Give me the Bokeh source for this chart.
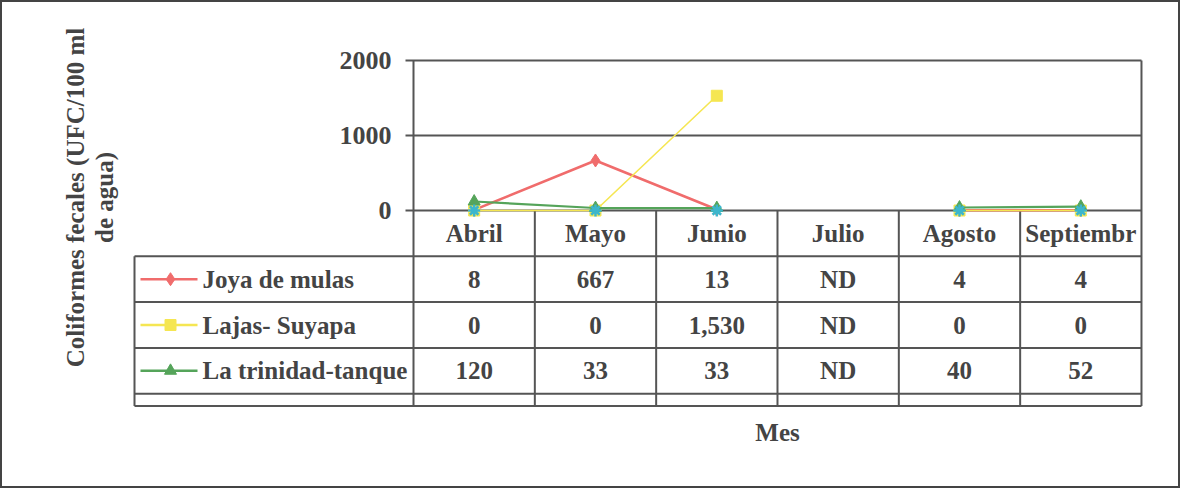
import math
from bokeh.plotting import figure
from bokeh.models import Range1d
from bokeh.core.properties import value
from bokeh.embed import file_html
from bokeh.resources import INLINE

# ---------------- data ----------------
months = ["Abril", "Mayo", "Junio", "Julio", "Agosto", "Septiembr"]
joya_de_mulas = [8, 667, 13, None, 4, 4]
lajas_suyapa = [0, 0, 1530, None, 0, 0]
la_trinidad_tanque = [120, 33, 33, None, 40, 52]
unnamed_series = [0, 0, 0, None, 0, 0]   # 4th (unlabelled) series, blank table row
series_names = ["Joya de mulas", "Lajas- Suyapa", "La trinidad-tanque"]
y_ticks = [0, 1000, 2000]
y_title = ["Coliformes fecales (UFC/100 ml", "de agua)"]
x_title = "Mes"
missing_label = "ND"

# ---------------- layout (pixels) ----------------
W, H = 1180, 488
PLOT_L = 413.0            # left edge of plot area
COL_W = 121.33            # width of one month column
ZERO = 210.0              # pixel row of value 0
PX = 150.0 / 2000.0       # pixels per unit
ROW_H = 45.8              # table row height
LEG_L = 134.0             # left edge of legend column
FONT = value("Liberation Serif")
FS = "25px"
TXT = "#444444"
LINE = "#555555"

colors = ["#F06C6C", "#F5E652", "#55A45A"]
markers = ["diamond", "square", "triangle"]
msizes = [13, 11, 12]
lwidths = [2.6, 1.6, 2.2]
extra_color = "#3DB6CC"

p = figure(width=W, height=H, output_backend="svg", toolbar_location=None,
           x_axis_location=None, y_axis_location=None,
           x_range=Range1d(-PLOT_L / COL_W, (W - PLOT_L) / COL_W),
           y_range=Range1d(-(H - ZERO) / PX, ZERO / PX),
           min_border=0, min_border_left=0, min_border_right=0,
           min_border_top=0, min_border_bottom=0)
p.extra_y_ranges = {"tbl": Range1d(start=(H - ZERO) / ROW_H, end=-ZERO / ROW_H)}
p.grid.visible = False
p.outline_line_color = "#444444"
p.outline_line_width = 3
p.background_fill_color = "white"
p.border_fill_color = "white"

n = len(months)
xc = [i + 0.5 for i in range(n)]
tick_ext = -8.0 / COL_W
t_top = -(max(y_ticks) * PX) / ROW_H
row_edges = [0, 1, 2, 3, 4, 4.27]
t_end = row_edges[-1]
leg_left = -(PLOT_L - LEG_L) / COL_W

# horizontal value gridlines (and ticks extending to the left)
p.segment(x0=[tick_ext] * len(y_ticks), x1=[n] * len(y_ticks), y0=y_ticks, y1=y_ticks,
          line_color=LINE, line_width=2)
# y tick labels
p.text(x=[-22.0 / COL_W] * len(y_ticks), y=y_ticks, text=[str(t) for t in y_ticks],
       text_align="right", text_baseline="middle", text_font=FONT,
       text_font_style="bold", text_font_size="26px", text_color=TXT)

# table horizontal lines
hl = row_edges[1:]
p.segment(x0=[leg_left] * len(hl), x1=[n] * len(hl), y0=hl, y1=hl,
          line_color=LINE, line_width=2, y_range_name="tbl")
# plot frame verticals (left/right) and column separators
p.segment(x0=[0, n], x1=[0, n], y0=[t_top, t_top], y1=[t_end, t_end],
          line_color=LINE, line_width=2, y_range_name="tbl")
p.segment(x0=list(range(1, n)), x1=list(range(1, n)), y0=[0] * (n - 1), y1=[t_end] * (n - 1),
          line_color=LINE, line_width=2, y_range_name="tbl")
p.segment(x0=[leg_left], x1=[leg_left], y0=[1], y1=[t_end],
          line_color=LINE, line_width=2, y_range_name="tbl")

# series lines & markers
all_series = [joya_de_mulas, lajas_suyapa, la_trinidad_tanque]
for vals, c, m, ms, lw in zip(all_series, colors, markers, msizes, lwidths):
    ys = [float("nan") if v is None else v for v in vals]
    p.line(x=xc, y=ys, line_color=c, line_width=lw)
    px = [x for x, v in zip(xc, vals) if v is not None]
    py = [v for v in vals if v is not None]
    p.scatter(x=px, y=py, marker=m, size=ms, fill_color=c, line_color=c)

ex = [x for x, v in zip(xc, unnamed_series) if v is not None]
ey = [v for v in unnamed_series if v is not None]
p.scatter(x=ex, y=ey, marker="asterisk", size=12, line_color=extra_color, line_width=2.5)

# header row: months
p.text(x=xc, y=[0.5] * n, text=months, y_range_name="tbl", text_align="center",
       text_baseline="middle", text_font=FONT, text_font_style="bold",
       text_font_size=FS, text_color=TXT)

# table values
def fmt(v):
    return missing_label if v is None else f"{v:,}"

cx, cy, ct = [], [], []
for r, vals in enumerate(all_series):
    for i, v in enumerate(vals):
        cx.append(xc[i]); cy.append(r + 1.5); ct.append(fmt(v))
p.text(x=cx, y=cy, text=ct, y_range_name="tbl", text_align="center",
       text_baseline="middle", text_font=FONT, text_font_style="bold",
       text_font_size=FS, text_color=TXT)

# legend keys in the table
lk0 = -(PLOT_L - 140) / COL_W
lk1 = -(PLOT_L - 197) / COL_W
lkm = -(PLOT_L - 170) / COL_W
for r, (c, m, ms) in enumerate(zip(colors, markers, msizes)):
    p.segment(x0=[lk0], x1=[lk1], y0=[r + 1.5], y1=[r + 1.5], line_color=c,
              line_width=2.5, y_range_name="tbl")
    p.scatter(x=[lkm], y=[r + 1.5], marker=m, size=ms, fill_color=c, line_color=c,
              y_range_name="tbl")
p.text(x=[-(PLOT_L - 202) / COL_W] * len(series_names),
       y=[r + 1.5 for r in range(len(series_names))], text=series_names,
       y_range_name="tbl", text_align="left", text_baseline="middle", text_font=FONT,
       text_font_style="bold", text_font_size=FS, text_color=TXT)

# axis titles
p.text(x=[n / 2], y=[(432 - ZERO) / ROW_H], text=[x_title], y_range_name="tbl",
       text_align="center", text_baseline="middle", text_font=FONT,
       text_font_style="bold", text_font_size=FS, text_color=TXT)
p.text(x=[-(PLOT_L - 75) / COL_W, -(PLOT_L - 104) / COL_W],
       y=[(197 - ZERO) / ROW_H] * 2, text=y_title, angle=math.pi / 2,
       y_range_name="tbl", text_align="center", text_baseline="middle", text_font=FONT,
       text_font_style="bold", text_font_size=FS, text_color=TXT)

open("out.html", "w").write(file_html(p, INLINE))
